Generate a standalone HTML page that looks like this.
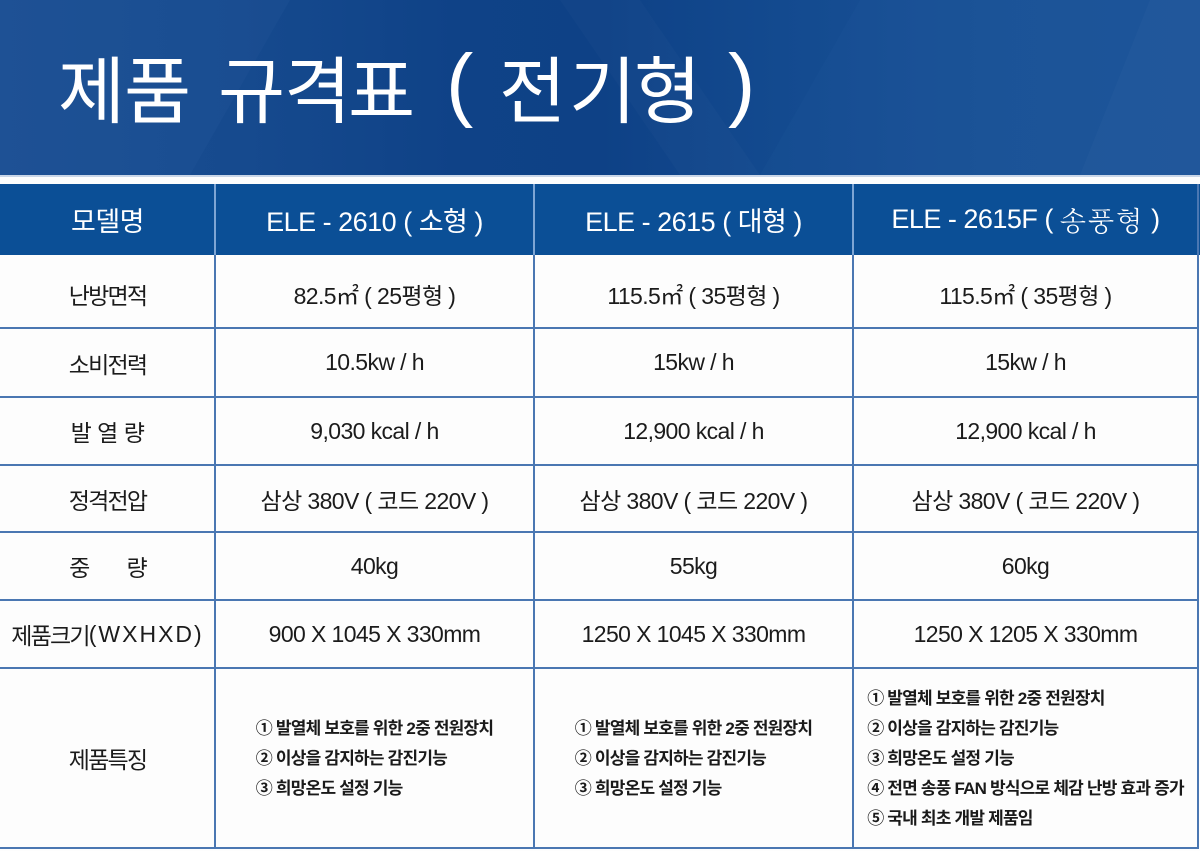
<!DOCTYPE html>
<html>
<head>
<meta charset="utf-8">
<style>
  html,body{margin:0;padding:0;}
  body{width:1200px;height:851px;position:relative;overflow:hidden;background:#fdfdfd;
    font-family:"Liberation Sans","Noto Sans CJK KR","NanumGothic",sans-serif;color:#1b1b1b;}
  .band{position:absolute;left:0;top:0;width:1200px;height:175px;
    background:linear-gradient(90deg,#1b4f93 0%,#164a8e 20%,#0f4287 38%,#0e4186 50%,#134a8f 65%,#1a5196 82%,#1c5399 100%);}
  .t{position:absolute;color:#fff;font-family:"Noto Sans CJK KR","NanumGothic",sans-serif;
    font-size:73px;line-height:73px;top:50px;white-space:nowrap;}
  .p{position:absolute;color:#fff;font-family:"Liberation Sans",sans-serif;font-size:82px;line-height:82px;top:43px;}
  .hrow{position:absolute;left:0;top:184px;width:1200px;height:71px;background:#0b4f96;}
  .cell{position:absolute;display:flex;align-items:center;justify-content:center;white-space:nowrap;}
  .h{color:#fff;font-size:27px;letter-spacing:-0.5px;}
  .b{font-size:23px;letter-spacing:-0.6px;}
  .lab{font-size:23px;letter-spacing:-1.8px;}
  .vl{position:absolute;width:2px;background:#4a77b2;}
  .hl{position:absolute;height:2px;background:#4a77b2;left:0;width:1199px;}
  .hv{position:absolute;width:2px;background:#7ea5d4;top:184px;height:71px;}
  .feat{font-family:"Liberation Sans","Noto Sans CJK KR",sans-serif;font-weight:700;font-size:17px;
    line-height:30px;letter-spacing:-0.8px;text-align:left;color:#1a1a1a;}
</style>
</head>
<body>
<div class="band">
  <svg width="1200" height="175" style="position:absolute;left:0;top:0">
    <polygon points="0,0 290,0 190,175 0,175" fill="#2a5fa3" opacity="0.18"/>
    <polygon points="560,0 640,0 760,175 680,175" fill="#ffffff" opacity="0.02"/>
    <polygon points="860,0 1200,0 1200,175 760,175" fill="#2a60a6" opacity="0.12"/>
    <polygon points="1150,0 1200,0 1200,175 1080,175" fill="#ffffff" opacity="0.02"/>
  </svg>
</div>
<div style="position:absolute;left:0;top:175px;width:1200px;height:2px;background:#c9d6e8;"></div>

<span class="t" style="left:58px">제</span>
<span class="t" style="left:124px">품</span>
<span class="t" style="left:218px">규</span>
<span class="t" style="left:284px">격</span>
<span class="t" style="left:348px">표</span>
<span class="p" style="left:446px">(</span>
<span class="t" style="left:499px">전</span>
<span class="t" style="left:569px">기</span>
<span class="t" style="left:634px">형</span>
<span class="p" style="left:728px">)</span>

<div class="hrow"></div>
<div class="hv" style="left:214px"></div>
<div class="hv" style="left:533px"></div>
<div class="hv" style="left:852px"></div>

<div class="cell h" style="left:0;top:184px;width:215px;height:71px;">모델명</div>
<div class="cell h" style="left:215px;top:184px;width:319px;height:71px;">ELE - 2610 ( 소형 )</div>
<div class="cell h" style="left:534px;top:184px;width:319px;height:71px;">ELE - 2615 ( 대형 )</div>
<div class="cell h" style="left:853px;top:184px;width:345px;height:71px;">ELE - 2615F (&nbsp;<span style="font-family:'Noto Serif CJK SC','Noto Serif CJK KR',serif;font-weight:300;letter-spacing:2px;">송풍형</span>&nbsp;)</div>

<!-- grid lines -->
<div class="vl" style="left:214px;top:255px;height:594px;"></div>
<div class="vl" style="left:533px;top:255px;height:594px;"></div>
<div class="vl" style="left:852px;top:255px;height:594px;"></div>
<div class="vl" style="left:1197px;top:184px;height:665px;"></div>
<div class="hl" style="top:327px"></div>
<div class="hl" style="top:396px"></div>
<div class="hl" style="top:464px"></div>
<div class="hl" style="top:531px"></div>
<div class="hl" style="top:599px"></div>
<div class="hl" style="top:667px"></div>
<div class="hl" style="top:847px"></div>

<!-- row 1 -->
<div class="cell lab" style="left:0;top:257px;width:215px;height:73px;">난방면적</div>
<div class="cell b" style="left:215px;top:257px;width:319px;height:73px;">82.5㎡ ( 25평형 )</div>
<div class="cell b" style="left:534px;top:257px;width:319px;height:73px;">115.5㎡ ( 35평형 )</div>
<div class="cell b" style="left:853px;top:257px;width:345px;height:73px;">115.5㎡ ( 35평형 )</div>
<!-- row 2 -->
<div class="cell lab" style="left:0;top:328px;width:215px;height:69px;">소비전력</div>
<div class="cell b" style="left:215px;top:328px;width:319px;height:69px;">10.5kw / h</div>
<div class="cell b" style="left:534px;top:328px;width:319px;height:69px;">15kw / h</div>
<div class="cell b" style="left:853px;top:328px;width:345px;height:69px;">15kw / h</div>
<!-- row 3 -->
<div class="cell lab" style="left:0;top:397px;width:215px;height:68px;letter-spacing:-0.5px;">발 열 량</div>
<div class="cell b" style="left:215px;top:397px;width:319px;height:68px;">9,030 kcal / h</div>
<div class="cell b" style="left:534px;top:397px;width:319px;height:68px;">12,900 kcal / h</div>
<div class="cell b" style="left:853px;top:397px;width:345px;height:68px;">12,900 kcal / h</div>
<!-- row 4 -->
<div class="cell lab" style="left:0;top:465px;width:215px;height:67px;">정격전압</div>
<div class="cell b" style="left:215px;top:465px;width:319px;height:67px;">삼상 380V ( 코드 220V )</div>
<div class="cell b" style="left:534px;top:465px;width:319px;height:67px;">삼상 380V ( 코드 220V )</div>
<div class="cell b" style="left:853px;top:465px;width:345px;height:67px;">삼상 380V ( 코드 220V )</div>
<!-- row 5 -->
<div class="cell lab" style="left:0;top:532px;width:215px;height:68px;">중<span style="display:inline-block;width:38px"></span>량</div>
<div class="cell b" style="left:215px;top:532px;width:319px;height:68px;">40kg</div>
<div class="cell b" style="left:534px;top:532px;width:319px;height:68px;">55kg</div>
<div class="cell b" style="left:853px;top:532px;width:345px;height:68px;">60kg</div>
<!-- row 6 -->
<div class="cell lab" style="left:0;top:600px;width:215px;height:68px;">제품크기<span style="letter-spacing:2px;">(WXHXD)</span></div>
<div class="cell b" style="left:215px;top:600px;width:319px;height:68px;">900 X 1045 X 330mm</div>
<div class="cell b" style="left:534px;top:600px;width:319px;height:68px;">1250 X 1045 X 330mm</div>
<div class="cell b" style="left:853px;top:600px;width:345px;height:68px;">1250 X 1205 X 330mm</div>
<!-- row 7 -->
<div class="cell lab" style="left:0;top:668px;width:215px;height:180px;">제품특징</div>
<div class="cell" style="left:215px;top:669px;width:319px;height:180px;">
  <div class="feat">① 발열체 보호를 위한 2중 전원장치<br>② 이상을 감지하는 감진기능<br>③ 희망온도 설정 기능</div>
</div>
<div class="cell" style="left:534px;top:669px;width:319px;height:180px;">
  <div class="feat">① 발열체 보호를 위한 2중 전원장치<br>② 이상을 감지하는 감진기능<br>③ 희망온도 설정 기능</div>
</div>
<div class="cell" style="left:853px;top:669px;width:345px;height:180px;">
  <div class="feat">① 발열체 보호를 위한 2중 전원장치<br>② 이상을 감지하는 감진기능<br>③ 희망온도 설정 기능<br>④ 전면 송풍 FAN 방식으로 체감 난방 효과 증가<br>⑤ 국내 최초 개발 제품임</div>
</div>
</body>
</html>
